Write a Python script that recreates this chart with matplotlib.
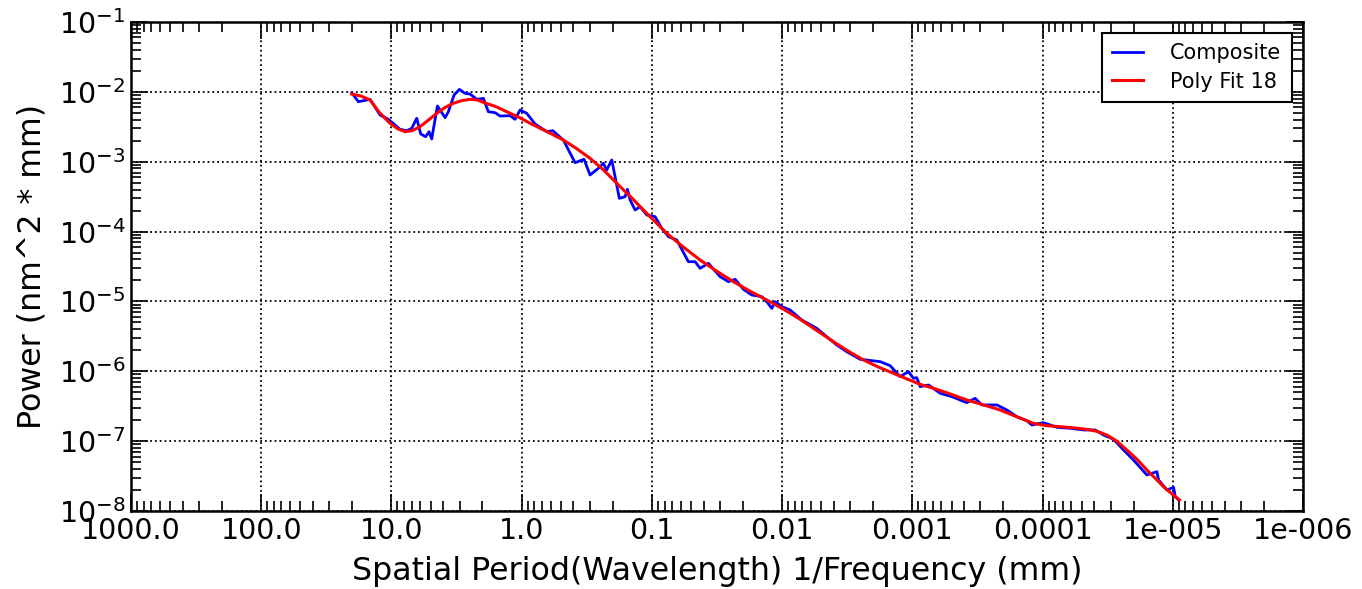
import numpy as np
import matplotlib
matplotlib.use("Agg")
import matplotlib.pyplot as plt
from matplotlib.ticker import NullFormatter, LogLocator

# log10 of spatial period (mm) and log10 of power (nm^2 * mm)
composite_log_period = [
    1.305, 1.254, 1.164, 1.088, 1.024, 0.934, 0.883, 0.844, 0.806, 0.775,
    0.737, 0.711, 0.691, 0.647, 0.588, 0.563, 0.519, 0.478, 0.435, 0.396,
    0.345, 0.294, 0.256, 0.204, 0.166, 0.089, 0.051, 0.012, -0.039, -0.103,
    -0.193, -0.239, -0.320, -0.410, -0.479, -0.525, -0.589, -0.627, -0.653, -0.692,
    -0.750, -0.794, -0.812, -0.833, -0.871, -0.909, -0.961, -1.025, -1.076, -1.127,
    -1.191, -1.280, -1.332, -1.370, -1.434, -1.524, -1.588, -1.639, -1.703, -1.767,
    -1.844, -1.882, -1.921, -1.946, -1.998, -2.061, -2.151, -2.266, -2.343, -2.420,
    -2.497, -2.599, -2.753, -2.830, -2.906, -2.970, -3.008, -3.034, -3.060, -3.124,
    -3.214, -3.303, -3.418, -3.482, -3.534, -3.649, -3.726, -3.802, -3.879, -3.918,
    -4.007, -4.110, -4.212, -4.314, -4.404, -4.468, -4.545, -4.622, -4.698, -4.801,
    -4.878, -4.891, -4.955, -5.006, -5.019, -5.045,
]
composite_log_power = [
    -2.012, -2.141, -2.107, -2.331, -2.393, -2.536, -2.556, -2.522, -2.378, -2.603,
    -2.642, -2.570, -2.675, -2.202, -2.370, -2.284, -2.045, -1.964, -2.021, -2.031,
    -2.107, -2.093, -2.284, -2.298, -2.346, -2.341, -2.393, -2.260, -2.307, -2.460,
    -2.570, -2.556, -2.689, -3.014, -2.965, -3.190, -3.094, -3.023, -3.119, -2.975,
    -3.524, -3.501, -3.395, -3.548, -3.691, -3.644, -3.763, -3.787, -3.953, -4.073,
    -4.120, -4.431, -4.431, -4.526, -4.454, -4.646, -4.717, -4.683, -4.826, -4.908,
    -4.932, -5.004, -5.099, -5.004, -5.075, -5.122, -5.266, -5.385, -5.505, -5.624,
    -5.720, -5.828, -5.862, -5.920, -6.077, -6.005, -6.100, -6.091, -6.220, -6.196,
    -6.315, -6.363, -6.449, -6.387, -6.482, -6.482, -6.554, -6.649, -6.707, -6.769,
    -6.735, -6.802, -6.816, -6.840, -6.840, -6.912, -6.973, -7.127, -7.270, -7.484,
    -7.437, -7.556, -7.699, -7.661, -7.795, -7.842,
]

fit_log_period = [
    1.305, 1.234, 1.164, 1.090, 1.011, 0.950, 0.896, 0.840, 0.781, 0.720,
    0.652, 0.590, 0.525, 0.460, 0.396, 0.340, 0.294, 0.200, 0.115, 0.020,
    -0.065, -0.190, -0.320, -0.420, -0.525, -0.630, -0.730, -0.835, -0.935, -1.063,
    -1.114, -1.240, -1.370, -1.500, -1.626, -1.750, -1.882, -2.010, -2.138, -2.270,
    -2.394, -2.510, -2.625, -2.740, -2.855, -2.960, -3.060, -3.162, -3.277, -3.418,
    -3.545, -3.674, -3.800, -3.930, -4.030, -4.135, -4.240, -4.340, -4.420, -4.493,
    -4.570, -4.647, -4.725, -4.801, -4.870, -4.929, -4.990, -5.052,
]
fit_log_power = [
    -2.031, -2.060, -2.117, -2.300, -2.450, -2.530, -2.570, -2.555, -2.499, -2.410,
    -2.307, -2.225, -2.164, -2.125, -2.107, -2.115, -2.150, -2.210, -2.284, -2.365,
    -2.450, -2.565, -2.689, -2.810, -2.951, -3.120, -3.309, -3.500, -3.691, -3.930,
    -4.025, -4.220, -4.407, -4.570, -4.717, -4.850, -4.979, -5.110, -5.256, -5.420,
    -5.576, -5.715, -5.838, -5.940, -6.029, -6.110, -6.187, -6.243, -6.315, -6.411,
    -6.480, -6.554, -6.650, -6.745, -6.778, -6.793, -6.810, -6.831, -6.860, -6.912,
    -7.000, -7.127, -7.260, -7.413, -7.540, -7.652, -7.750, -7.842,
]

xtick_values = [1000.0, 100.0, 10.0, 1.0, 0.1, 0.01, 0.001, 0.0001, 1e-5, 1e-6]
xtick_labels = ["1000.0", "100.0", "10.0", "1.0", "0.1", "0.01", "0.001",
                "0.0001", "1e-005", "1e-006"]

plt.rcParams['font.family'] = ['DejaVu Sans']

fig = plt.figure(figsize=(13.62, 5.89), dpi=100)
ax = fig.add_axes([131 / 1362, 1 - 511 / 589, (1303 - 131) / 1362, (511 - 22) / 589])

comp_x = np.power(10.0, composite_log_period)
comp_y = np.power(10.0, composite_log_power)
fit_x = np.power(10.0, fit_log_period)
fit_y = np.power(10.0, fit_log_power)

ax.plot(comp_x, comp_y, color='#0000ff', lw=2.0, label='Composite')
ax.plot(fit_x, fit_y, color='#ff0000', lw=2.2, label='Poly Fit 18')

ax.set_xscale('log')
ax.set_yscale('log')
ax.set_xlim(1000.0, 1e-6)
ax.set_ylim(1e-8, 1e-1)

ax.set_xticks(xtick_values)
ax.set_xticklabels(xtick_labels)
ax.xaxis.set_minor_locator(LogLocator(base=10, subs=np.arange(2, 10), numticks=100))
ax.xaxis.set_minor_formatter(NullFormatter())
ax.yaxis.set_major_locator(LogLocator(base=10, numticks=20))
ax.yaxis.set_minor_locator(LogLocator(base=10, subs=np.arange(2, 10), numticks=100))
ax.yaxis.set_minor_formatter(NullFormatter())

ax.tick_params(which='both', direction='in', top=True, right=True, labelsize=20.5,
               width=1.2, colors='black')
ax.tick_params(which='major', length=12, pad=4)
ax.tick_params(which='minor', length=7)

for s in ax.spines.values():
    s.set_linewidth(1.8)

ax.grid(True, which='major', color='black', linestyle=':', linewidth=1.3)

ax.set_xlabel('Spatial Period(Wavelength) 1/Frequency (mm)', fontsize=22.8, labelpad=8)
ax.set_ylabel('Power (nm^2 * mm)', fontsize=22.8, labelpad=8)

leg = ax.legend(loc='upper right', fontsize=15, fancybox=False, framealpha=1,
                edgecolor='black', handlelength=1.5, borderpad=0.5,
                labelspacing=0.4, handletextpad=1.3, borderaxespad=0,
                bbox_to_anchor=(0.9906, 0.9775))
leg.get_frame().set_linewidth(1.5)

fig.savefig('out.png', dpi=100)
